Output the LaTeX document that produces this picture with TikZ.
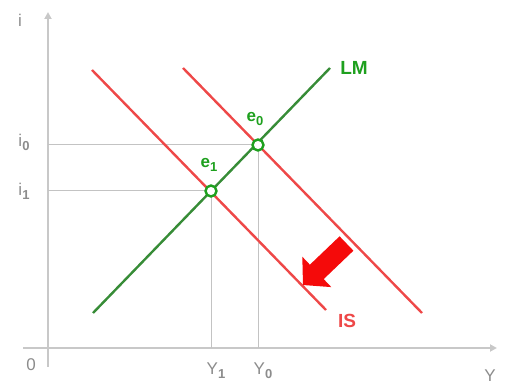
\documentclass[tikz,border=0pt]{standalone}
\usepackage{fontspec}
\setmainfont{Liberation Sans}
\usetikzlibrary{arrows.meta}
\definecolor{axisgray}{RGB}{200,200,200}
\definecolor{guidegray}{RGB}{195,195,195}
\definecolor{labgray}{RGB}{140,140,140}
\definecolor{isred}{RGB}{238,72,72}
\definecolor{lmgreen}{RGB}{55,140,55}
\definecolor{lblgreen}{RGB}{30,160,30}
\definecolor{arrred}{RGB}{245,10,10}
\newcommand{\lowidx}[1]{\raisebox{-0.45ex}{\bfseries\fontsize{13}{13}\selectfont #1}}
\begin{document}
\begin{tikzpicture}[x=1pt,y=-1pt,
  axisline/.style={draw=axisgray,line width=2.2pt,-{Triangle[length=7pt,width=7pt]}},
  guide/.style={draw=guidegray,line width=1pt},
  isline/.style={draw=isred,line width=2.4pt},
  lmline/.style={draw=lmgreen,line width=2.4pt},
  axlab/.style={text=labgray,font=\fontsize{17}{17}\selectfont,inner sep=0pt},
  curvelab/.style={font=\bfseries\fontsize{19}{19}\selectfont,inner sep=0pt},
  eqlab/.style={text=lblgreen,font=\bfseries\fontsize{17}{17}\selectfont,inner sep=0pt},
  eqpt/.style={circle,draw=lblgreen,fill=white,line width=2.4pt,minimum size=11pt,inner sep=0pt}]
\useasboundingbox (0,0) rectangle (507,385);
% axes
\coordinate (ybot) at (48,367);
\coordinate (ytop) at (48,12);
\coordinate (xl) at (23,348);
\coordinate (xr) at (497,348);
\draw[axisline] (ybot) -- (ytop);
\draw[axisline] (xl) -- (xr);
% equilibrium points
\coordinate (e0) at (258,145);
\coordinate (e1) at (211,191);
\coordinate (i0) at (48,145);
\coordinate (i1) at (48,191);
\coordinate (y0) at (258,348);
\coordinate (y1) at (211,348);
\draw[guide] (i0) -- (e0) -- (y0);
\draw[guide] (i1) -- (e1) -- (y1);
% curves
\coordinate (lmA) at (93,313);
\coordinate (lmB) at (330,68);
\coordinate (isA) at (183,68);
\coordinate (isB) at (422,313);
\coordinate (isC) at (92,70);
\coordinate (isD) at (326,310);
\draw[isline] (isA) -- (isB);
\draw[isline] (isC) -- (isD);
\draw[lmline] (lmA) -- (lmB);
\node[eqpt] (p0) at (e0) {};
\node[eqpt] (p1) at (e1) {};
% block arrow
\fill[arrred] (353.4,250.7) -- (339.6,236.3) -- (309.9,264.7) -- (302.3,256.7)
  -- (303,285) -- (331.3,287.1) -- (323.7,279.1) -- cycle;
% labels
\node[curvelab,text=lblgreen] (lmlab) at (354,68) {LM};
\node[curvelab,text=isred] (islab) at (347,321) {IS};
\node[eqlab] (e0lab) at (255,119) {e\lowidx{0}};
\node[eqlab] (e1lab) at (209,165) {e\lowidx{1}};
\node[axlab] (ilab) at (20,20) {i};
\node[axlab] (i0lab) at (24,142) {i\lowidx{0}};
\node[axlab] (i1lab) at (24,191) {i\lowidx{1}};
\node[axlab] (zlab) at (31,365) {0};
\node[axlab] (Y1lab) at (216,371) {Y\lowidx{1}};
\node[axlab] (Y0lab) at (263,371) {Y\lowidx{0}};
\node[axlab] (Ylab) at (490,376) {Y};
\end{tikzpicture}
\end{document}
